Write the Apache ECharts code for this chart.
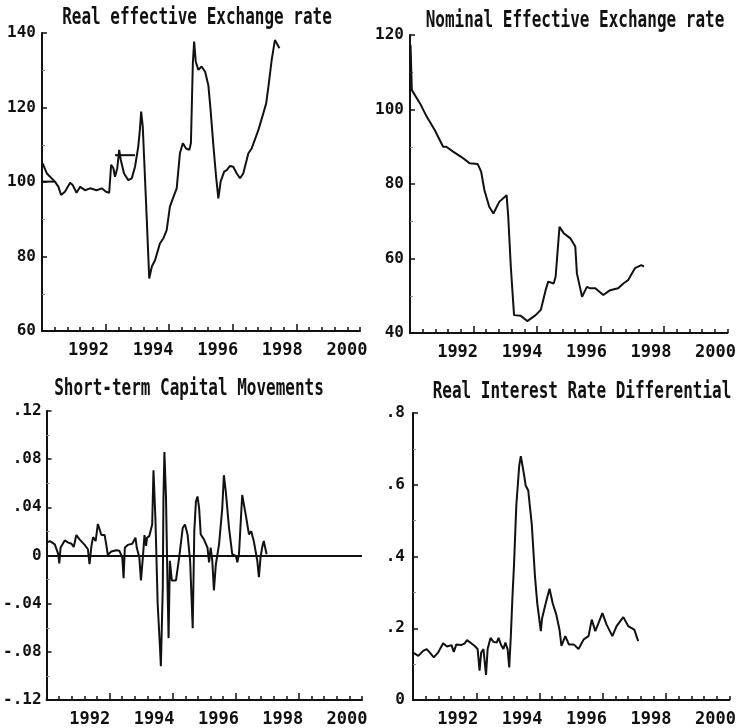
<!DOCTYPE html>
<html><head><meta charset="utf-8">
<script src="https://cdn.jsdelivr.net/npm/echarts@6/dist/echarts.min.js"></script>
<style>html,body{margin:0;padding:0;background:#fff}#c{width:739px;height:728px}</style>
</head><body><div id="c"></div>
<script>
// ---- data ----
const titles = ['Real effective Exchange rate','Nominal Effective Exchange rate','Short-term Capital Movements','Real Interest Rate Differential'];
const yearLabels = [1992,1994,1996,1998,2000];

const realEER = [[1990.58,105.0],[1990.71,102.3],[1990.96,100.1],[1991.07,98.7],[1991.15,96.5],[1991.27,97.4],[1991.43,99.8],[1991.51,99.2],[1991.63,97.1],[1991.74,98.7],[1991.89,97.8],[1992.05,98.3],[1992.25,97.8],[1992.41,98.3],[1992.54,97.4],[1992.64,97.1],[1992.70,104.6],[1992.77,103.7],[1992.82,101.4],[1992.89,103.7],[1992.95,108.6],[1993.00,105.9],[1993.10,102.3],[1993.23,100.5],[1993.34,101.0],[1993.44,104.1],[1993.54,109.5],[1993.59,114.0],[1993.63,118.9],[1993.68,114.8],[1993.72,106.8],[1993.80,90.7],[1993.88,74.1],[1993.96,77.3],[1994.06,79.0],[1994.21,83.5],[1994.32,84.9],[1994.42,87.1],[1994.52,93.4],[1994.63,96.0],[1994.73,98.3],[1994.83,107.7],[1994.92,110.4],[1995.02,109.0],[1995.12,108.6],[1995.17,110.4],[1995.23,131.9],[1995.27,137.7],[1995.32,132.3],[1995.40,130.1],[1995.50,131.0],[1995.61,129.6],[1995.71,126.0],[1995.78,119.3],[1995.86,110.4],[1995.95,101.4],[1996.02,95.6],[1996.09,100.1],[1996.20,102.8],[1996.28,103.2],[1996.38,104.3],[1996.48,104.1],[1996.59,102.3],[1996.69,101.0],[1996.79,102.3],[1996.95,107.7],[1997.05,109.0],[1997.26,114.0],[1997.41,118.4],[1997.50,121.1],[1997.57,125.6],[1997.67,132.7],[1997.77,138.1],[1997.83,138.6],[1997.91,135.9]];
const realFlatA = [[1990.58,100.1],[1990.96,100.1]];
const realFlatB = [[1992.82,107.2],[1993.44,107.2]];

const nominalEER = [[1990.54,117.3],[1990.58,105.2],[1990.83,101.7],[1991.04,98.1],[1991.29,94.5],[1991.55,90.0],[1991.65,90.0],[1991.86,88.7],[1992.11,87.3],[1992.37,85.6],[1992.62,85.4],[1992.73,83.3],[1992.83,78.4],[1992.98,73.9],[1993.11,72.1],[1993.29,75.2],[1993.52,77.0],[1993.57,71.2],[1993.65,57.8],[1993.75,44.8],[1993.96,44.6],[1994.16,43.2],[1994.42,44.8],[1994.58,46.2],[1994.73,51.5],[1994.81,53.8],[1994.98,53.3],[1995.04,55.1],[1995.16,68.5],[1995.29,66.8],[1995.50,65.4],[1995.65,63.2],[1995.70,56.0],[1995.86,49.7],[1996.01,52.4],[1996.11,52.0],[1996.27,52.0],[1996.52,50.2],[1996.73,51.5],[1996.98,52.0],[1997.14,53.3],[1997.29,54.2],[1997.50,57.4],[1997.70,58.2],[1997.78,57.8]];

const capital = [[1990.65,0.0107],[1990.76,0.012],[1990.91,0.0093],[1991.02,0.001],[1991.05,-0.0066],[1991.09,0.0066],[1991.22,0.0125],[1991.33,0.0107],[1991.43,0.0098],[1991.50,0.0071],[1991.58,0.017],[1991.68,0.0134],[1991.84,0.0088],[1991.94,0.0052],[1991.99,-0.0071],[1992.05,0.008],[1992.10,0.0153],[1992.18,0.012],[1992.25,0.0262],[1992.36,0.017],[1992.46,0.017],[1992.51,0.0093],[1992.56,0.0006],[1992.67,0.0033],[1992.82,0.0043],[1992.92,0.0039],[1993.01,-0.0016],[1993.05,-0.0189],[1993.09,0.0066],[1993.18,0.0088],[1993.32,0.0098],[1993.42,0.0148],[1993.46,0.0066],[1993.54,-0.0016],[1993.59,-0.0207],[1993.65,-0.0016],[1993.70,0.017],[1993.75,0.008],[1993.78,0.0148],[1993.85,0.0161],[1993.94,0.0257],[1993.98,0.0708],[1994.04,0.0312],[1994.11,-0.0399],[1994.18,-0.0754],[1994.21,-0.092],[1994.27,-0.0262],[1994.29,0.0476],[1994.32,0.0859],[1994.37,0.0476],[1994.42,-0.0289],[1994.45,-0.0686],[1994.49,-0.0044],[1994.55,-0.0207],[1994.68,-0.0207],[1994.78,-0.0016],[1994.89,0.023],[1994.96,0.0257],[1995.04,0.0175],[1995.12,-0.0044],[1995.20,-0.0604],[1995.25,0.0202],[1995.30,0.0448],[1995.35,0.049],[1995.40,0.0394],[1995.45,0.0175],[1995.55,0.0134],[1995.66,0.0066],[1995.71,-0.0057],[1995.76,0.0066],[1995.81,-0.0044],[1995.86,-0.0289],[1995.92,-0.0075],[1996.02,0.0093],[1996.12,0.0394],[1996.17,0.0667],[1996.23,0.053],[1996.33,0.023],[1996.43,0.0011],[1996.54,-0.0003],[1996.59,-0.0057],[1996.64,0.0011],[1996.74,0.0503],[1996.85,0.0339],[1996.95,0.0175],[1997.02,0.0202],[1997.10,0.012],[1997.21,-0.0044],[1997.26,-0.018],[1997.31,-0.0016],[1997.36,0.0066],[1997.41,0.012],[1997.50,0.0011]];

const interest = [[1990.62,0.132],[1990.78,0.123],[1990.93,0.137],[1991.04,0.142],[1991.14,0.132],[1991.26,0.119],[1991.39,0.132],[1991.55,0.158],[1991.67,0.149],[1991.81,0.153],[1991.88,0.134],[1991.96,0.155],[1992.11,0.153],[1992.22,0.158],[1992.29,0.167],[1992.42,0.158],[1992.52,0.151],[1992.62,0.142],[1992.68,0.082],[1992.73,0.132],[1992.80,0.142],[1992.88,0.070],[1992.93,0.142],[1993.02,0.173],[1993.11,0.162],[1993.21,0.160],[1993.27,0.173],[1993.34,0.155],[1993.42,0.142],[1993.48,0.160],[1993.55,0.142],[1993.60,0.091],[1993.65,0.178],[1993.70,0.288],[1993.75,0.379],[1993.82,0.543],[1993.91,0.653],[1993.96,0.680],[1994.03,0.644],[1994.11,0.598],[1994.19,0.584],[1994.30,0.489],[1994.40,0.343],[1994.47,0.269],[1994.58,0.192],[1994.62,0.228],[1994.73,0.269],[1994.85,0.310],[1994.95,0.269],[1995.06,0.238],[1995.16,0.196],[1995.22,0.151],[1995.34,0.178],[1995.45,0.155],[1995.60,0.155],[1995.75,0.142],[1995.91,0.169],[1996.06,0.178],[1996.16,0.224],[1996.27,0.192],[1996.39,0.219],[1996.49,0.242],[1996.62,0.210],[1996.80,0.178],[1996.93,0.206],[1997.14,0.231],[1997.29,0.206],[1997.48,0.196],[1997.60,0.164]];

// ---- layout ----
const panels = [
  {grid:{left:42,top:33,width:318,height:298}, xMin:1990.56, xMax:2000.405, yMin:60, yMax:140, yInt:20, lblMargin:6, title:[197,18]},
  {grid:{left:410,top:35,width:320,height:298}, xMin:1990.523, xMax:2000.37, yMin:40, yMax:120, yInt:20, lblMargin:6, title:[575,21]},
  {grid:{left:45,top:411,width:317,height:293}, xMin:1990.653, xMax:2000.467, yMin:-0.12, yMax:0.12, yInt:0.04, lblMargin:5, title:[189,389]},
  {grid:{left:413,top:413,width:319,height:292}, xMin:1990.615, xMax:2000.43, yMin:0, yMax:0.8, yInt:0.2, lblMargin:8, title:[582,392]}
];
const FONT = '"DejaVu Sans Mono", monospace';
const INK = '#111';

function fmtY(i){
  return function(v){
    if (Math.abs(v) < 1e-9) return '0';
    if (i < 2) return String(Math.round(v));
    const d = i === 2 ? 2 : 1;
    const s = Math.abs(v).toFixed(d).replace(/^0/, '');
    return (v < 0 ? '-' : '') + s;
  };
}

const option = {animation:false, backgroundColor:'#fff', grid:[], xAxis:[], yAxis:[], series:[], graphic:[]};

panels.forEach((p, i) => {
  option.grid.push(p.grid);
  const n = 25, step = (p.xMax - p.xMin) / n;
  const small = [], tall = [];
  for (let k = 1; k <= n; k++) { const v = p.xMin + k * step; (k % 5 === 0 && k < n ? tall : small).push(v); }
  option.xAxis.push({
    type:'value', gridIndex:i, min:p.xMin, max:p.xMax, position:'bottom',
    axisLine:{show:true, onZero:false, lineStyle:{color:INK, width:2}},
    axisTick:{show:true, inside:true, length:4, customValues:small, lineStyle:{color:INK, width:1.5}},
    axisLabel:{show:true, customValues:yearLabels, margin:11, fontFamily:FONT, fontWeight:'bold', fontSize:17, color:INK,
      formatter:function(v){ return String(Math.round(v)); }},
    splitLine:{show:false}
  });
  option.xAxis.push({
    type:'value', gridIndex:i, min:p.xMin, max:p.xMax, position:'bottom',
    axisLine:{show:false, onZero:false},
    axisTick:{show:true, inside:true, length:7, customValues:tall, lineStyle:{color:INK, width:1.5}},
    axisLabel:{show:false}, splitLine:{show:false}
  });
  option.yAxis.push({
    type:'value', gridIndex:i, min:p.yMin, max:p.yMax, interval:p.yInt,
    axisLine:{show:true, onZero:false, lineStyle:{color:INK, width:2}},
    axisTick:{show:true, inside:true, length:5, lineStyle:{color:INK, width:1.5}},
    minorTick:{show:true, splitNumber:2, length:3, lineStyle:{color:'#888', width:1}},
    axisLabel:{margin:p.lblMargin, fontFamily:FONT, fontWeight:'bold', fontSize:16, color:INK, formatter:fmtY(i)},
    splitLine:{show:false}, minorSplitLine:{show:false}
  });
  option.graphic.push({
    type:'text', x:p.title[0], y:p.title[1], scaleY:1.45,
    style:{text:titles[i], fontFamily:FONT, fontWeight:'bold', fontSize:16, fill:INK, align:'center', verticalAlign:'middle'}
  });
});

const lineBase = {type:'line', showSymbol:false, symbol:'none', lineStyle:{color:INK, width:2}, z:3};
option.series.push(Object.assign({}, lineBase, {name:titles[0], xAxisIndex:0, yAxisIndex:0, data:realEER}));
option.series.push(Object.assign({}, lineBase, {name:'flatA', xAxisIndex:0, yAxisIndex:0, data:realFlatA}));
option.series.push(Object.assign({}, lineBase, {name:'flatB', xAxisIndex:0, yAxisIndex:0, data:realFlatB}));
option.series.push(Object.assign({}, lineBase, {name:titles[1], xAxisIndex:2, yAxisIndex:1, data:nominalEER}));
option.series.push(Object.assign({}, lineBase, {name:titles[2], xAxisIndex:4, yAxisIndex:2, data:capital,
  markLine:{silent:true, symbol:['none','none'], label:{show:false}, lineStyle:{color:INK, width:2, type:'solid'}, data:[{yAxis:0}]}}));
option.series.push(Object.assign({}, lineBase, {name:titles[3], xAxisIndex:6, yAxisIndex:3, data:interest}));

echarts.init(document.getElementById('c'), null, {renderer:'canvas'}).setOption(option);
</script>
</body></html>
